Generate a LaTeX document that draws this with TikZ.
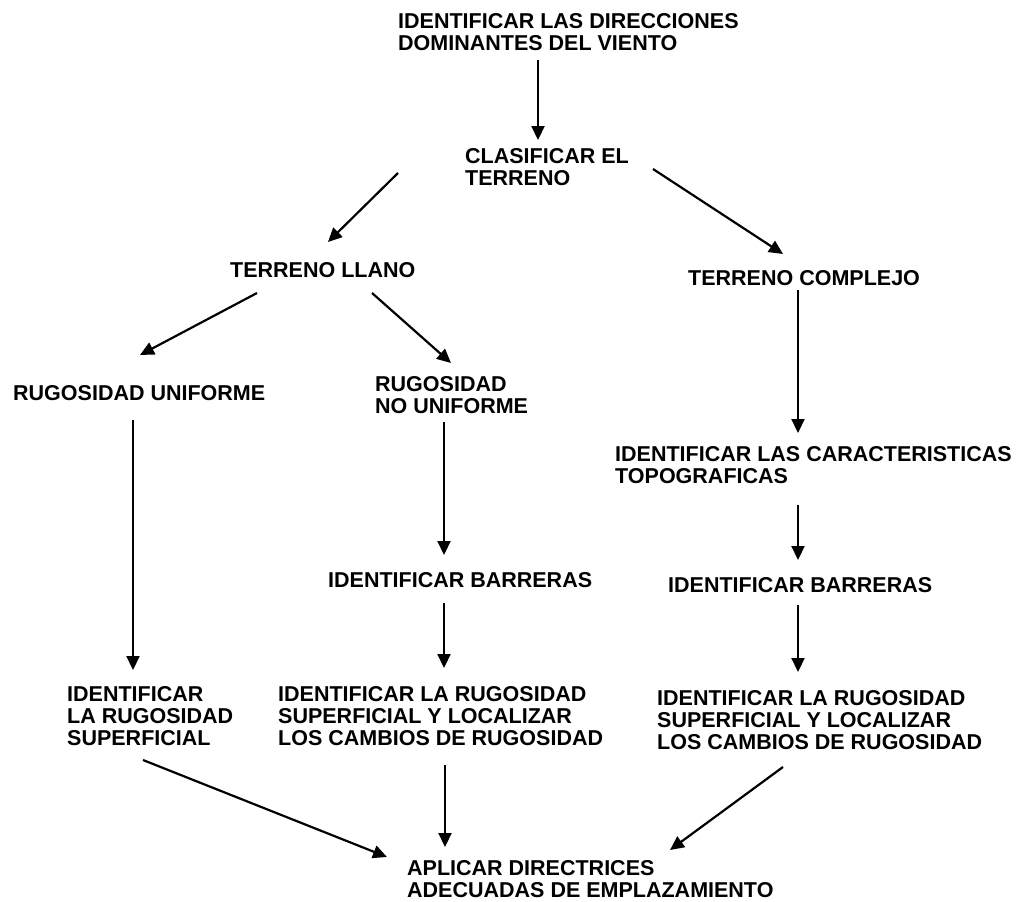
\documentclass[tikz,border=0pt]{standalone}
\usepackage{fontspec}
\setmainfont{Liberation Sans}
\usetikzlibrary{arrows.meta}

\tikzset{
  txt/.style={anchor=north west, inner sep=0pt, align=left,
    font=\bfseries\fontsize{21.5}{22}\selectfont},
  arr/.style={line width=2.2pt, -{Triangle[length=14pt,width=13pt]}}
}

\begin{document}
\begin{tikzpicture}[x=1pt,y=-1pt]
  \useasboundingbox (0,0) rectangle (1021,902);

  \node[txt] (dir)    at (398,13)  {IDENTIFICAR LAS DIRECCIONES\\DOMINANTES DEL VIENTO};
  \node[txt] (clas)   at (465,148) {CLASIFICAR EL\\TERRENO};
  \node[txt] (llano)  at (230,262) {TERRENO LLANO};
  \node[txt] (compl)  at (688,270) {TERRENO COMPLEJO};
  \node[txt] (unif)   at (13,385)  {RUGOSIDAD UNIFORME};
  \node[txt] (nounif) at (375,376) {RUGOSIDAD\\NO UNIFORME};
  \node[txt] (topo)   at (615,446) {IDENTIFICAR LAS CARACTERISTICAS\\TOPOGRAFICAS};
  \node[txt] (barm)   at (328,572) {IDENTIFICAR BARRERAS};
  \node[txt] (barr)   at (668,577) {IDENTIFICAR BARRERAS};
  \node[txt] (supl)   at (67,686)  {IDENTIFICAR\\LA RUGOSIDAD\\SUPERFICIAL};
  \node[txt] (supm)   at (278,686) {IDENTIFICAR LA RUGOSIDAD\\SUPERFICIAL Y LOCALIZAR\\LOS CAMBIOS DE RUGOSIDAD};
  \node[txt] (supr)   at (657,690) {IDENTIFICAR LA RUGOSIDAD\\SUPERFICIAL Y LOCALIZAR\\LOS CAMBIOS DE RUGOSIDAD};
  \node[txt] (aplic)  at (407,860) {APLICAR DIRECTRICES\\ADECUADAS DE EMPLAZAMIENTO};

  % from / offset / to / offset (offsets from the north west corners)
  \foreach \a/\p/\b/\q in {
      dir/{140,47}/clas/{73,-8},
      clas/{-67,25}/llano/{98,-20},
      clas/{188,21}/compl/{95,-16},
      llano/{27,31}/unif/{127,-30},
      llano/{142,31}/nounif/{76,-13},
      compl/{110,20}/topo/{183,-13},
      unif/{120,35}/supl/{66,-16},
      nounif/{69,46}/barm/{116,-17},
      topo/{183,59}/barr/{130,-17},
      barm/{116,31}/supm/{166,-18},
      barr/{130,28}/supr/{141,-18},
      supl/{76,74}/aplic/{-20,-3},
      supm/{167,79}/aplic/{38,-13},
      supr/{126,77}/aplic/{263,-10}}
    \draw[arr] ([shift={(\p)}]\a.north west) -- ([shift={(\q)}]\b.north west);
\end{tikzpicture}
\end{document}
